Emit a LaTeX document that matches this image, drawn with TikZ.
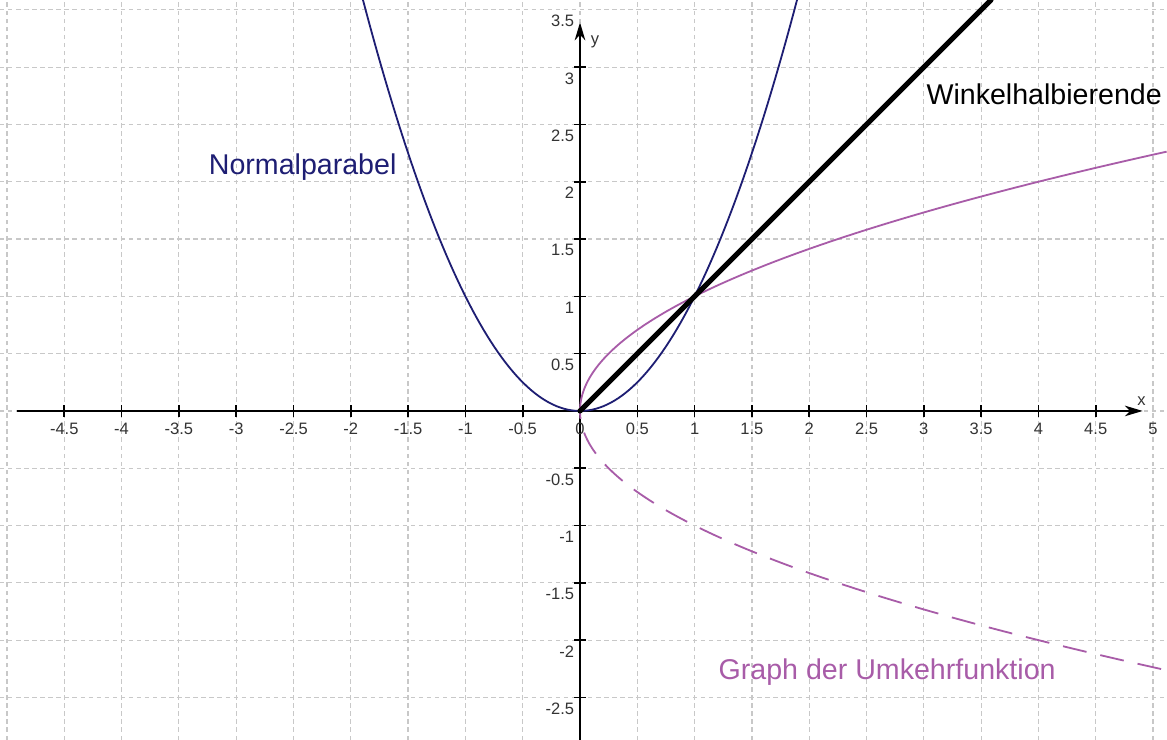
\documentclass[tikz,border=0pt]{standalone}
\usepackage{fontspec}
\setmainfont{Liberation Sans}
\usepackage{xcolor}
\usetikzlibrary{arrows.meta}
\definecolor{parabelblau}{RGB}{30,30,115}
\definecolor{umkehrlila}{RGB}{168,92,168}
\definecolor{gittergrau}{RGB}{200,200,200}
\newcommand{\tickfont}{\fontsize{4.1}{5}\selectfont}
\newcommand{\labelfont}{\fontsize{7.1}{8.5}\selectfont}
\newcommand{\gitter}[4]{
  \foreach \i in {#1,...,#2}{
    \draw[gitterlinie] ({\i/2},-2.871)--({\i/2},3.586);
  }
  \foreach \j in {#3,...,#4}{
    \draw[gitterlinie] (-5.061,{\j/2})--(5.122,{\j/2});
  }
}

\begin{document}
\begin{tikzpicture}[
    gitterlinie/.style={gittergrau,line width=.3pt,dash pattern=on 1.1pt off .9pt},
    achse/.style={line width=.55pt,-{Stealth[length=4.4pt,width=2.6pt,inset=1.3pt]}},
    tickx/.style={anchor=north,inner sep=0pt,font=\tickfont,text=black!80},
    ticky/.style={anchor=north east,inner sep=0pt,font=\tickfont,text=black!80},
    kurve/.style={line width=.45pt}
  ]
    \useasboundingbox (-5.061,-2.871) rectangle (5.122,3.586);
    \gitter{-10}{10}{-5}{7}
    \coordinate (xl) at (-4.91,0);
    \coordinate (xr) at (4.91,0);
    \coordinate (yu) at (0,-2.871);
    \coordinate (yo) at (0,3.39);
    \draw [achse] (xl) to (xr);
    \draw [achse] (yu) to (yo);
    \node [inner sep=0pt,font=\tickfont,text=black!80] (xname) at (4.9,0.09) {x};
    \node [inner sep=0pt,font=\tickfont,text=black!80] (yname) at (0.13,3.22) {y};
    \foreach \x in {-9,...,-1,1,2,...,9}{
      \draw [line width=.4pt] ({\x/2},-0.05)--({\x/2},0.05);
    }
    \foreach \y in {-5,...,-1,1,2,...,6}{
      \draw [line width=.4pt] (-0.05,{\y/2})--(0.05,{\y/2});
    }
    \foreach \x [count=\i] in {-4.5,-4,-3.5,-3,-2.5,-2,-1.5,-1,-0.5,0,0.5,1,1.5,2,2.5,3,3.5,4,4.5,5}{
      \node [tickx] (xt\i) at (\x,-0.096) {\x};
    }
    \foreach \y [count=\i] in {-2.5,-2,-1.5,-1,-0.5,0.5,1,1.5,2,2.5,3,3.5}{
      \node [ticky] (yt\i) at (-0.045,\y-0.04) {\y};
    }
    \draw [kurve,parabelblau,domain=-1.894:1.894,samples=120] plot (\x,{\x*\x});
    \draw [kurve,umkehrlila,domain=0:2.263,samples=120] plot ({\x*\x},\x);
    \draw [kurve,umkehrlila,dash pattern=on 6pt off 3.5pt,dash phase=4pt,domain=0:2.263,samples=120] plot ({\x*\x},-\x);
    \draw [line width=1.3pt,line cap=round] (0,0)--(3.586,3.586);
    \node [font=\labelfont,text=parabelblau] (np) at (-2.42,2.13) {Normalparabel};
    \node [font=\labelfont] (wh) at (4.05,2.76) {Winkelhalbierende};
    \node [font=\labelfont,text=umkehrlila] (uk) at (2.68,-2.28) {Graph der Umkehrfunktion};
  \end{tikzpicture}
\end{document}
